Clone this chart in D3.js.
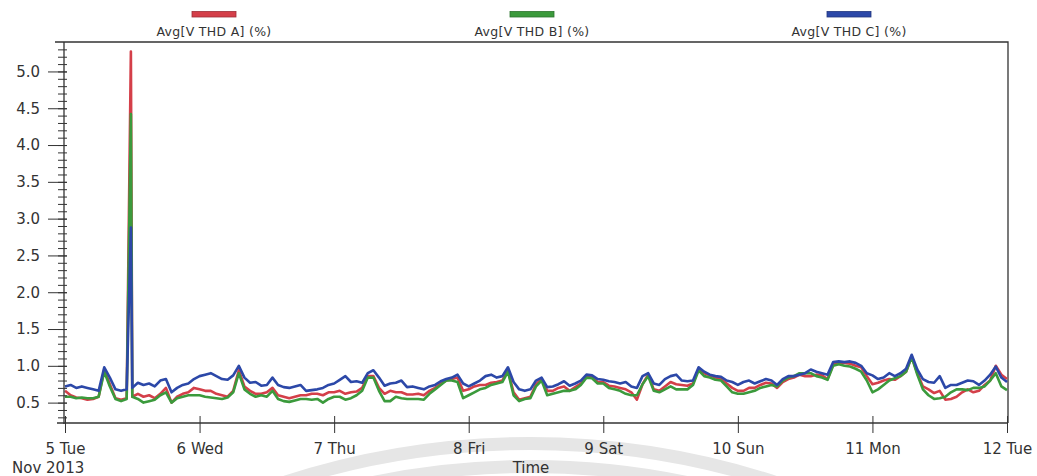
<!DOCTYPE html>
<html>
<head>
<meta charset="utf-8">
<script src="https://cdn.jsdelivr.net/npm/d3@7"></script>
<style>
  body { margin: 0; background: #fff; }
  svg text { font-family: "DejaVu Sans", Verdana, sans-serif; fill: #333; }
</style>
</head>
<body>
<svg width="1037" height="476"></svg>
<script>
// ---- data (hourly averages, 5 Nov 2013 00:00 -> 12 Nov 2013 00:00) ----
const seriesNames = ["Avg[V THD A] (%)", "Avg[V THD B] (%)", "Avg[V THD C] (%)"];
const seriesColors = ["#d43f49", "#3b9a3c", "#2c48a8"];

const thdA = [
  0.66,0.60,0.57,0.56,0.54,0.55,0.58,0.95,0.75,0.56,0.54,0.56,0.58,0.62,0.58,0.60,0.56,0.62,0.70,0.50,0.58,0.62,0.64,0.70,
  0.68,0.66,0.66,0.62,0.60,0.58,0.66,0.94,0.72,0.66,0.62,0.62,0.64,0.70,0.60,0.58,0.56,0.58,0.60,0.60,0.62,0.62,0.60,0.64,
  0.64,0.66,0.62,0.64,0.65,0.70,0.86,0.86,0.70,0.62,0.66,0.64,0.64,0.61,0.61,0.62,0.60,0.66,0.70,0.76,0.80,0.82,0.84,0.66,
  0.68,0.72,0.74,0.74,0.77,0.78,0.80,0.94,0.64,0.54,0.56,0.58,0.75,0.82,0.66,0.66,0.70,0.72,0.66,0.71,0.76,0.86,0.85,0.78,
  0.78,0.73,0.72,0.70,0.68,0.64,0.54,0.75,0.88,0.68,0.66,0.72,0.78,0.75,0.74,0.73,0.76,0.96,0.90,0.87,0.84,0.82,0.76,0.70,
  0.66,0.66,0.70,0.70,0.74,0.77,0.76,0.70,0.78,0.82,0.84,0.88,0.86,0.86,0.88,0.87,0.82,1.02,1.04,1.04,1.03,1.00,0.98,0.86,
  0.75,0.77,0.80,0.82,0.81,0.86,0.92,1.13,0.90,0.72,0.68,0.63,0.66,0.54,0.55,0.58,0.64,0.68,0.64,0.66,0.74,0.80,1.00,0.88,
  0.82
];
const thdB = [
  0.58,0.58,0.56,0.57,0.56,0.56,0.58,0.92,0.72,0.55,0.52,0.55,0.58,0.55,0.50,0.52,0.54,0.60,0.64,0.50,0.56,0.58,0.60,0.60,
  0.60,0.58,0.57,0.56,0.55,0.57,0.64,0.90,0.68,0.62,0.58,0.60,0.58,0.66,0.55,0.52,0.51,0.53,0.55,0.55,0.54,0.55,0.50,0.55,
  0.58,0.58,0.54,0.56,0.60,0.66,0.84,0.84,0.66,0.52,0.52,0.58,0.56,0.55,0.55,0.55,0.54,0.62,0.68,0.74,0.80,0.80,0.78,0.56,
  0.60,0.64,0.68,0.70,0.74,0.76,0.78,0.92,0.60,0.52,0.55,0.56,0.72,0.80,0.60,0.62,0.64,0.66,0.66,0.68,0.74,0.84,0.83,0.76,
  0.76,0.70,0.68,0.66,0.62,0.60,0.60,0.75,0.86,0.66,0.64,0.68,0.72,0.68,0.68,0.68,0.74,0.94,0.86,0.84,0.81,0.80,0.72,0.64,
  0.62,0.62,0.64,0.66,0.70,0.72,0.74,0.72,0.80,0.84,0.86,0.90,0.90,0.90,0.86,0.84,0.81,1.00,1.02,1.00,0.99,0.96,0.92,0.80,
  0.64,0.68,0.74,0.80,0.83,0.86,0.92,1.12,0.88,0.68,0.60,0.55,0.56,0.58,0.64,0.68,0.68,0.67,0.70,0.70,0.72,0.80,0.90,0.72,
  0.67
];
const thdC = [
  0.72,0.74,0.70,0.72,0.70,0.68,0.66,0.98,0.84,0.68,0.66,0.68,0.70,0.77,0.74,0.76,0.72,0.80,0.82,0.64,0.70,0.74,0.76,0.82,
  0.86,0.88,0.90,0.86,0.82,0.81,0.87,1.00,0.84,0.77,0.78,0.73,0.74,0.84,0.74,0.71,0.70,0.72,0.74,0.66,0.67,0.68,0.70,0.74,
  0.76,0.81,0.86,0.78,0.79,0.77,0.90,0.94,0.84,0.73,0.76,0.77,0.80,0.71,0.72,0.70,0.68,0.72,0.74,0.79,0.82,0.84,0.88,0.76,
  0.72,0.76,0.80,0.86,0.88,0.84,0.86,0.98,0.78,0.68,0.66,0.68,0.80,0.84,0.71,0.72,0.75,0.79,0.73,0.76,0.80,0.88,0.87,0.82,
  0.81,0.79,0.78,0.76,0.78,0.72,0.70,0.86,0.90,0.76,0.74,0.82,0.86,0.88,0.80,0.79,0.80,0.98,0.92,0.88,0.86,0.85,0.80,0.78,
  0.74,0.78,0.80,0.76,0.79,0.82,0.80,0.74,0.82,0.86,0.86,0.88,0.90,0.95,0.92,0.90,0.88,1.05,1.06,1.05,1.06,1.04,1.00,0.90,
  0.87,0.82,0.84,0.90,0.86,0.90,0.96,1.15,0.95,0.82,0.78,0.77,0.86,0.70,0.74,0.74,0.77,0.80,0.79,0.74,0.80,0.88,0.99,0.84,
  0.78
];

// single short transient on the 5th
const spikeTime = new Date(Date.UTC(2013, 10, 5, 11, 45));
const spikeValues = [5.27, 4.42, 2.88];

const startTime = new Date(Date.UTC(2013, 10, 5));
const endTime = new Date(Date.UTC(2013, 10, 12));
const dayTicks = [5, 6, 7, 8, 9, 10, 11, 12].map(d => new Date(Date.UTC(2013, 10, d)));
const yMajorTicks = [0.5, 1.0, 1.5, 2.0, 2.5, 3.0, 3.5, 4.0, 4.5, 5.0];
const yMinorTicks = d3.range(3, 54).map(i => i / 10);

// ---- layout ----
const svg = d3.select("svg");
const plot = {left: 65, right: 1007, top: 42, bottom: 423};

const x = d3.scaleUtc().domain([startTime, endTime]).range([plot.left, plot.right]);
const y = d3.scaleLinear().domain([0.223, 5.4]).range([plot.bottom, plot.top]);

// faint watermark rings from the scanned page
const wm = svg.append("g").attr("fill", "none").attr("stroke", "#e6e6e6").attr("stroke-width", 13);
wm.append("circle").attr("cx", 530).attr("cy", 1237).attr("r", 793.5);
wm.append("circle").attr("cx", 530).attr("cy", 1237).attr("r", 770.5);

// frame (top + right)
svg.append("path")
  .attr("d", `M55,${plot.top}H1008V${plot.bottom}`)
  .attr("fill", "none").attr("stroke", "#333").attr("stroke-width", 1.3);

// ---- series ----
const allSeries = [thdA, thdB, thdC].map((vals, k) => {
  const pts = vals.map((v, i) => ({t: d3.utcHour.offset(startTime, i), v}));
  pts.push({t: spikeTime, v: spikeValues[k]});
  pts.sort((a, b) => a.t - b.t);
  return pts;
});

const line = d3.line().x(d => x(d.t)).y(d => y(d.v));

svg.append("g").selectAll("path")
  .data(allSeries)
  .join("path")
  .attr("d", line)
  .attr("fill", "none")
  .attr("stroke", (d, i) => seriesColors[i])
  .attr("stroke-width", 2.6)
  .attr("stroke-linejoin", "round");

// ---- y axis ----
const yAxisG = svg.append("g").attr("transform", "translate(64,0)");
yAxisG.append("line").attr("y1", plot.top).attr("y2", plot.bottom + 1).attr("stroke", "#333").attr("stroke-width", 1.3);

const yMinor = yAxisG.append("g").call(d3.axisLeft(y).tickValues(yMinorTicks).tickSize(6).tickFormat(""));
yMinor.select(".domain").remove();
yMinor.selectAll(".tick line").attr("x1", 3).attr("stroke", "#333");

const yMajor = yAxisG.append("g").call(
  d3.axisLeft(y).tickValues(yMajorTicks).tickSize(16).tickPadding(8).tickFormat(d3.format(".1f"))
);
yMajor.select(".domain").remove();
yMajor.selectAll(".tick line").attr("x1", 3).attr("stroke", "#333");
yMajor.selectAll(".tick text").style("font-size", "15px").attr("fill", "#333");

// ---- x axis ----
const xAxisG = svg.append("g").attr("transform", `translate(0,${plot.bottom})`);
xAxisG.append("line").attr("x1", 57).attr("x2", 1008).attr("stroke", "#333").attr("stroke-width", 1.3);
const xAx = xAxisG.append("g").call(
  d3.axisBottom(x).tickValues(dayTicks).tickSize(10).tickPadding(10).tickFormat(d3.utcFormat("%-d %a"))
);
xAx.select(".domain").remove();
xAx.selectAll(".tick line").attr("y1", -7).attr("stroke", "#333");
xAx.selectAll(".tick text").style("font-size", "15px").attr("fill", "#333");

svg.append("text").attr("x", 12).attr("y", 473).style("font-size", "15px").text("Nov 2013");
svg.append("text").attr("x", 531).attr("y", 473).attr("text-anchor", "middle").style("font-size", "15px").text("Time");

// ---- legend ----
const legendCenters = [214, 532, 849];
const legend = svg.append("g").selectAll("g")
  .data(seriesNames)
  .join("g")
  .attr("transform", (d, i) => `translate(${legendCenters[i]},0)`);
legend.append("rect")
  .attr("x", -22).attr("y", 11.5).attr("width", 44).attr("height", 5.5)
  .attr("fill", (d, i) => seriesColors[i])
  .attr("stroke", (d, i) => d3.color(seriesColors[i]).darker(0.8))
  .attr("stroke-width", 0.8);
legend.append("text")
  .attr("y", 36).attr("text-anchor", "middle")
  .style("font-size", "12.5px").style("letter-spacing", "0.3px")
  .text(d => d);
</script>
</body>
</html>
